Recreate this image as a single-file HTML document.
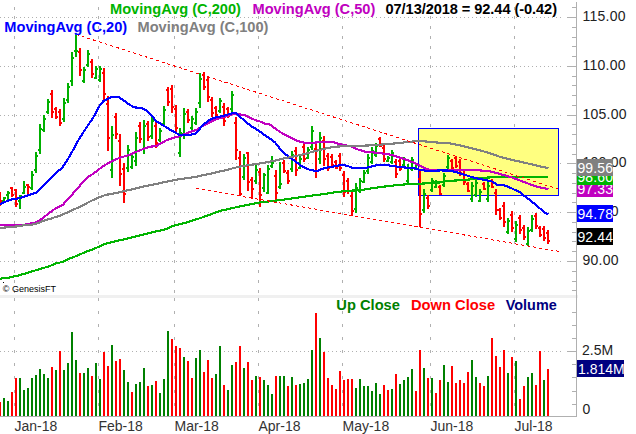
<!DOCTYPE html>
<html><head><meta charset="utf-8"><title>Chart</title>
<style>html,body{margin:0;padding:0;background:#fff;}body{width:636px;height:434px;overflow:hidden;position:relative;font-family:"Liberation Sans",sans-serif;}</style>
</head><body>
<svg width="636" height="434" viewBox="0 0 636 434" style="position:absolute;left:0;top:0" font-family="Liberation Sans, sans-serif">
<rect width="636" height="434" fill="#fff"/>
<g shape-rendering="crispEdges">
<line x1="0" x2="561" y1="17.5" y2="17.5" stroke="#b0b0b0" stroke-width="1" stroke-dasharray="1 3"/>
<line x1="0" x2="561" y1="66.5" y2="66.5" stroke="#b0b0b0" stroke-width="1" stroke-dasharray="1 3"/>
<line x1="0" x2="561" y1="115.5" y2="115.5" stroke="#b0b0b0" stroke-width="1" stroke-dasharray="1 3"/>
<line x1="0" x2="561" y1="163.5" y2="163.5" stroke="#b0b0b0" stroke-width="1" stroke-dasharray="1 3"/>
<line x1="0" x2="561" y1="212.5" y2="212.5" stroke="#b0b0b0" stroke-width="1" stroke-dasharray="1 3"/>
<line x1="0" x2="561" y1="261.5" y2="261.5" stroke="#b0b0b0" stroke-width="1" stroke-dasharray="1 3"/>
<line x1="0" x2="561" y1="351.5" y2="351.5" stroke="#b0b0b0" stroke-width="1" stroke-dasharray="1 3"/>
<rect x="14" y="7" width="1" height="3" fill="#b0b0b0"/>
<rect x="14" y="16" width="1" height="3" fill="#b0b0b0"/>
<rect x="14" y="26" width="1" height="3" fill="#b0b0b0"/>
<rect x="14" y="36" width="1" height="3" fill="#b0b0b0"/>
<rect x="14" y="46" width="1" height="3" fill="#b0b0b0"/>
<rect x="14" y="56" width="1" height="3" fill="#b0b0b0"/>
<rect x="14" y="65" width="1" height="3" fill="#b0b0b0"/>
<rect x="14" y="75" width="1" height="3" fill="#b0b0b0"/>
<rect x="14" y="85" width="1" height="3" fill="#b0b0b0"/>
<rect x="14" y="95" width="1" height="3" fill="#b0b0b0"/>
<rect x="14" y="104" width="1" height="3" fill="#b0b0b0"/>
<rect x="14" y="114" width="1" height="3" fill="#b0b0b0"/>
<rect x="14" y="124" width="1" height="3" fill="#b0b0b0"/>
<rect x="14" y="134" width="1" height="3" fill="#b0b0b0"/>
<rect x="14" y="143" width="1" height="3" fill="#b0b0b0"/>
<rect x="14" y="153" width="1" height="3" fill="#b0b0b0"/>
<rect x="14" y="163" width="1" height="3" fill="#b0b0b0"/>
<rect x="14" y="173" width="1" height="3" fill="#b0b0b0"/>
<rect x="14" y="182" width="1" height="3" fill="#b0b0b0"/>
<rect x="14" y="192" width="1" height="3" fill="#b0b0b0"/>
<rect x="14" y="202" width="1" height="3" fill="#b0b0b0"/>
<rect x="14" y="212" width="1" height="3" fill="#b0b0b0"/>
<rect x="14" y="221" width="1" height="3" fill="#b0b0b0"/>
<rect x="14" y="231" width="1" height="3" fill="#b0b0b0"/>
<rect x="14" y="241" width="1" height="3" fill="#b0b0b0"/>
<rect x="14" y="251" width="1" height="3" fill="#b0b0b0"/>
<rect x="14" y="260" width="1" height="3" fill="#b0b0b0"/>
<rect x="14" y="270" width="1" height="3" fill="#b0b0b0"/>
<rect x="14" y="280" width="1" height="3" fill="#b0b0b0"/>
<rect x="14" y="290" width="1" height="3" fill="#b0b0b0"/>
<rect x="14" y="403" width="1" height="3" fill="#b0b0b0"/>
<rect x="14" y="390" width="1" height="3" fill="#b0b0b0"/>
<rect x="14" y="376" width="1" height="3" fill="#b0b0b0"/>
<rect x="14" y="363" width="1" height="3" fill="#b0b0b0"/>
<rect x="14" y="350" width="1" height="3" fill="#b0b0b0"/>
<rect x="14" y="337" width="1" height="3" fill="#b0b0b0"/>
<rect x="14" y="324" width="1" height="3" fill="#b0b0b0"/>
<rect x="14" y="311" width="1" height="3" fill="#b0b0b0"/>
<rect x="14" y="298" width="1" height="3" fill="#b0b0b0"/>
<rect x="98" y="7" width="1" height="3" fill="#b0b0b0"/>
<rect x="98" y="16" width="1" height="3" fill="#b0b0b0"/>
<rect x="98" y="26" width="1" height="3" fill="#b0b0b0"/>
<rect x="98" y="36" width="1" height="3" fill="#b0b0b0"/>
<rect x="98" y="46" width="1" height="3" fill="#b0b0b0"/>
<rect x="98" y="56" width="1" height="3" fill="#b0b0b0"/>
<rect x="98" y="65" width="1" height="3" fill="#b0b0b0"/>
<rect x="98" y="75" width="1" height="3" fill="#b0b0b0"/>
<rect x="98" y="85" width="1" height="3" fill="#b0b0b0"/>
<rect x="98" y="95" width="1" height="3" fill="#b0b0b0"/>
<rect x="98" y="104" width="1" height="3" fill="#b0b0b0"/>
<rect x="98" y="114" width="1" height="3" fill="#b0b0b0"/>
<rect x="98" y="124" width="1" height="3" fill="#b0b0b0"/>
<rect x="98" y="134" width="1" height="3" fill="#b0b0b0"/>
<rect x="98" y="143" width="1" height="3" fill="#b0b0b0"/>
<rect x="98" y="153" width="1" height="3" fill="#b0b0b0"/>
<rect x="98" y="163" width="1" height="3" fill="#b0b0b0"/>
<rect x="98" y="173" width="1" height="3" fill="#b0b0b0"/>
<rect x="98" y="182" width="1" height="3" fill="#b0b0b0"/>
<rect x="98" y="192" width="1" height="3" fill="#b0b0b0"/>
<rect x="98" y="202" width="1" height="3" fill="#b0b0b0"/>
<rect x="98" y="212" width="1" height="3" fill="#b0b0b0"/>
<rect x="98" y="221" width="1" height="3" fill="#b0b0b0"/>
<rect x="98" y="231" width="1" height="3" fill="#b0b0b0"/>
<rect x="98" y="241" width="1" height="3" fill="#b0b0b0"/>
<rect x="98" y="251" width="1" height="3" fill="#b0b0b0"/>
<rect x="98" y="260" width="1" height="3" fill="#b0b0b0"/>
<rect x="98" y="270" width="1" height="3" fill="#b0b0b0"/>
<rect x="98" y="280" width="1" height="3" fill="#b0b0b0"/>
<rect x="98" y="290" width="1" height="3" fill="#b0b0b0"/>
<rect x="98" y="403" width="1" height="3" fill="#b0b0b0"/>
<rect x="98" y="390" width="1" height="3" fill="#b0b0b0"/>
<rect x="98" y="376" width="1" height="3" fill="#b0b0b0"/>
<rect x="98" y="363" width="1" height="3" fill="#b0b0b0"/>
<rect x="98" y="350" width="1" height="3" fill="#b0b0b0"/>
<rect x="98" y="337" width="1" height="3" fill="#b0b0b0"/>
<rect x="98" y="324" width="1" height="3" fill="#b0b0b0"/>
<rect x="98" y="311" width="1" height="3" fill="#b0b0b0"/>
<rect x="98" y="298" width="1" height="3" fill="#b0b0b0"/>
<rect x="174" y="7" width="1" height="3" fill="#b0b0b0"/>
<rect x="174" y="16" width="1" height="3" fill="#b0b0b0"/>
<rect x="174" y="26" width="1" height="3" fill="#b0b0b0"/>
<rect x="174" y="36" width="1" height="3" fill="#b0b0b0"/>
<rect x="174" y="46" width="1" height="3" fill="#b0b0b0"/>
<rect x="174" y="56" width="1" height="3" fill="#b0b0b0"/>
<rect x="174" y="65" width="1" height="3" fill="#b0b0b0"/>
<rect x="174" y="75" width="1" height="3" fill="#b0b0b0"/>
<rect x="174" y="85" width="1" height="3" fill="#b0b0b0"/>
<rect x="174" y="95" width="1" height="3" fill="#b0b0b0"/>
<rect x="174" y="104" width="1" height="3" fill="#b0b0b0"/>
<rect x="174" y="114" width="1" height="3" fill="#b0b0b0"/>
<rect x="174" y="124" width="1" height="3" fill="#b0b0b0"/>
<rect x="174" y="134" width="1" height="3" fill="#b0b0b0"/>
<rect x="174" y="143" width="1" height="3" fill="#b0b0b0"/>
<rect x="174" y="153" width="1" height="3" fill="#b0b0b0"/>
<rect x="174" y="163" width="1" height="3" fill="#b0b0b0"/>
<rect x="174" y="173" width="1" height="3" fill="#b0b0b0"/>
<rect x="174" y="182" width="1" height="3" fill="#b0b0b0"/>
<rect x="174" y="192" width="1" height="3" fill="#b0b0b0"/>
<rect x="174" y="202" width="1" height="3" fill="#b0b0b0"/>
<rect x="174" y="212" width="1" height="3" fill="#b0b0b0"/>
<rect x="174" y="221" width="1" height="3" fill="#b0b0b0"/>
<rect x="174" y="231" width="1" height="3" fill="#b0b0b0"/>
<rect x="174" y="241" width="1" height="3" fill="#b0b0b0"/>
<rect x="174" y="251" width="1" height="3" fill="#b0b0b0"/>
<rect x="174" y="260" width="1" height="3" fill="#b0b0b0"/>
<rect x="174" y="270" width="1" height="3" fill="#b0b0b0"/>
<rect x="174" y="280" width="1" height="3" fill="#b0b0b0"/>
<rect x="174" y="290" width="1" height="3" fill="#b0b0b0"/>
<rect x="174" y="403" width="1" height="3" fill="#b0b0b0"/>
<rect x="174" y="390" width="1" height="3" fill="#b0b0b0"/>
<rect x="174" y="376" width="1" height="3" fill="#b0b0b0"/>
<rect x="174" y="363" width="1" height="3" fill="#b0b0b0"/>
<rect x="174" y="350" width="1" height="3" fill="#b0b0b0"/>
<rect x="174" y="337" width="1" height="3" fill="#b0b0b0"/>
<rect x="174" y="324" width="1" height="3" fill="#b0b0b0"/>
<rect x="174" y="311" width="1" height="3" fill="#b0b0b0"/>
<rect x="174" y="298" width="1" height="3" fill="#b0b0b0"/>
<rect x="258" y="7" width="1" height="3" fill="#b0b0b0"/>
<rect x="258" y="16" width="1" height="3" fill="#b0b0b0"/>
<rect x="258" y="26" width="1" height="3" fill="#b0b0b0"/>
<rect x="258" y="36" width="1" height="3" fill="#b0b0b0"/>
<rect x="258" y="46" width="1" height="3" fill="#b0b0b0"/>
<rect x="258" y="56" width="1" height="3" fill="#b0b0b0"/>
<rect x="258" y="65" width="1" height="3" fill="#b0b0b0"/>
<rect x="258" y="75" width="1" height="3" fill="#b0b0b0"/>
<rect x="258" y="85" width="1" height="3" fill="#b0b0b0"/>
<rect x="258" y="95" width="1" height="3" fill="#b0b0b0"/>
<rect x="258" y="104" width="1" height="3" fill="#b0b0b0"/>
<rect x="258" y="114" width="1" height="3" fill="#b0b0b0"/>
<rect x="258" y="124" width="1" height="3" fill="#b0b0b0"/>
<rect x="258" y="134" width="1" height="3" fill="#b0b0b0"/>
<rect x="258" y="143" width="1" height="3" fill="#b0b0b0"/>
<rect x="258" y="153" width="1" height="3" fill="#b0b0b0"/>
<rect x="258" y="163" width="1" height="3" fill="#b0b0b0"/>
<rect x="258" y="173" width="1" height="3" fill="#b0b0b0"/>
<rect x="258" y="182" width="1" height="3" fill="#b0b0b0"/>
<rect x="258" y="192" width="1" height="3" fill="#b0b0b0"/>
<rect x="258" y="202" width="1" height="3" fill="#b0b0b0"/>
<rect x="258" y="212" width="1" height="3" fill="#b0b0b0"/>
<rect x="258" y="221" width="1" height="3" fill="#b0b0b0"/>
<rect x="258" y="231" width="1" height="3" fill="#b0b0b0"/>
<rect x="258" y="241" width="1" height="3" fill="#b0b0b0"/>
<rect x="258" y="251" width="1" height="3" fill="#b0b0b0"/>
<rect x="258" y="260" width="1" height="3" fill="#b0b0b0"/>
<rect x="258" y="270" width="1" height="3" fill="#b0b0b0"/>
<rect x="258" y="280" width="1" height="3" fill="#b0b0b0"/>
<rect x="258" y="290" width="1" height="3" fill="#b0b0b0"/>
<rect x="258" y="403" width="1" height="3" fill="#b0b0b0"/>
<rect x="258" y="390" width="1" height="3" fill="#b0b0b0"/>
<rect x="258" y="376" width="1" height="3" fill="#b0b0b0"/>
<rect x="258" y="363" width="1" height="3" fill="#b0b0b0"/>
<rect x="258" y="350" width="1" height="3" fill="#b0b0b0"/>
<rect x="258" y="337" width="1" height="3" fill="#b0b0b0"/>
<rect x="258" y="324" width="1" height="3" fill="#b0b0b0"/>
<rect x="258" y="311" width="1" height="3" fill="#b0b0b0"/>
<rect x="258" y="298" width="1" height="3" fill="#b0b0b0"/>
<rect x="342" y="7" width="1" height="3" fill="#b0b0b0"/>
<rect x="342" y="16" width="1" height="3" fill="#b0b0b0"/>
<rect x="342" y="26" width="1" height="3" fill="#b0b0b0"/>
<rect x="342" y="36" width="1" height="3" fill="#b0b0b0"/>
<rect x="342" y="46" width="1" height="3" fill="#b0b0b0"/>
<rect x="342" y="56" width="1" height="3" fill="#b0b0b0"/>
<rect x="342" y="65" width="1" height="3" fill="#b0b0b0"/>
<rect x="342" y="75" width="1" height="3" fill="#b0b0b0"/>
<rect x="342" y="85" width="1" height="3" fill="#b0b0b0"/>
<rect x="342" y="95" width="1" height="3" fill="#b0b0b0"/>
<rect x="342" y="104" width="1" height="3" fill="#b0b0b0"/>
<rect x="342" y="114" width="1" height="3" fill="#b0b0b0"/>
<rect x="342" y="124" width="1" height="3" fill="#b0b0b0"/>
<rect x="342" y="134" width="1" height="3" fill="#b0b0b0"/>
<rect x="342" y="143" width="1" height="3" fill="#b0b0b0"/>
<rect x="342" y="153" width="1" height="3" fill="#b0b0b0"/>
<rect x="342" y="163" width="1" height="3" fill="#b0b0b0"/>
<rect x="342" y="173" width="1" height="3" fill="#b0b0b0"/>
<rect x="342" y="182" width="1" height="3" fill="#b0b0b0"/>
<rect x="342" y="192" width="1" height="3" fill="#b0b0b0"/>
<rect x="342" y="202" width="1" height="3" fill="#b0b0b0"/>
<rect x="342" y="212" width="1" height="3" fill="#b0b0b0"/>
<rect x="342" y="221" width="1" height="3" fill="#b0b0b0"/>
<rect x="342" y="231" width="1" height="3" fill="#b0b0b0"/>
<rect x="342" y="241" width="1" height="3" fill="#b0b0b0"/>
<rect x="342" y="251" width="1" height="3" fill="#b0b0b0"/>
<rect x="342" y="260" width="1" height="3" fill="#b0b0b0"/>
<rect x="342" y="270" width="1" height="3" fill="#b0b0b0"/>
<rect x="342" y="280" width="1" height="3" fill="#b0b0b0"/>
<rect x="342" y="290" width="1" height="3" fill="#b0b0b0"/>
<rect x="342" y="403" width="1" height="3" fill="#b0b0b0"/>
<rect x="342" y="390" width="1" height="3" fill="#b0b0b0"/>
<rect x="342" y="376" width="1" height="3" fill="#b0b0b0"/>
<rect x="342" y="363" width="1" height="3" fill="#b0b0b0"/>
<rect x="342" y="350" width="1" height="3" fill="#b0b0b0"/>
<rect x="342" y="337" width="1" height="3" fill="#b0b0b0"/>
<rect x="342" y="324" width="1" height="3" fill="#b0b0b0"/>
<rect x="342" y="311" width="1" height="3" fill="#b0b0b0"/>
<rect x="342" y="298" width="1" height="3" fill="#b0b0b0"/>
<rect x="430" y="7" width="1" height="3" fill="#b0b0b0"/>
<rect x="430" y="16" width="1" height="3" fill="#b0b0b0"/>
<rect x="430" y="26" width="1" height="3" fill="#b0b0b0"/>
<rect x="430" y="36" width="1" height="3" fill="#b0b0b0"/>
<rect x="430" y="46" width="1" height="3" fill="#b0b0b0"/>
<rect x="430" y="56" width="1" height="3" fill="#b0b0b0"/>
<rect x="430" y="65" width="1" height="3" fill="#b0b0b0"/>
<rect x="430" y="75" width="1" height="3" fill="#b0b0b0"/>
<rect x="430" y="85" width="1" height="3" fill="#b0b0b0"/>
<rect x="430" y="95" width="1" height="3" fill="#b0b0b0"/>
<rect x="430" y="104" width="1" height="3" fill="#b0b0b0"/>
<rect x="430" y="114" width="1" height="3" fill="#b0b0b0"/>
<rect x="430" y="124" width="1" height="3" fill="#b0b0b0"/>
<rect x="430" y="134" width="1" height="3" fill="#b0b0b0"/>
<rect x="430" y="143" width="1" height="3" fill="#b0b0b0"/>
<rect x="430" y="153" width="1" height="3" fill="#b0b0b0"/>
<rect x="430" y="163" width="1" height="3" fill="#b0b0b0"/>
<rect x="430" y="173" width="1" height="3" fill="#b0b0b0"/>
<rect x="430" y="182" width="1" height="3" fill="#b0b0b0"/>
<rect x="430" y="192" width="1" height="3" fill="#b0b0b0"/>
<rect x="430" y="202" width="1" height="3" fill="#b0b0b0"/>
<rect x="430" y="212" width="1" height="3" fill="#b0b0b0"/>
<rect x="430" y="221" width="1" height="3" fill="#b0b0b0"/>
<rect x="430" y="231" width="1" height="3" fill="#b0b0b0"/>
<rect x="430" y="241" width="1" height="3" fill="#b0b0b0"/>
<rect x="430" y="251" width="1" height="3" fill="#b0b0b0"/>
<rect x="430" y="260" width="1" height="3" fill="#b0b0b0"/>
<rect x="430" y="270" width="1" height="3" fill="#b0b0b0"/>
<rect x="430" y="280" width="1" height="3" fill="#b0b0b0"/>
<rect x="430" y="290" width="1" height="3" fill="#b0b0b0"/>
<rect x="430" y="403" width="1" height="3" fill="#b0b0b0"/>
<rect x="430" y="390" width="1" height="3" fill="#b0b0b0"/>
<rect x="430" y="376" width="1" height="3" fill="#b0b0b0"/>
<rect x="430" y="363" width="1" height="3" fill="#b0b0b0"/>
<rect x="430" y="350" width="1" height="3" fill="#b0b0b0"/>
<rect x="430" y="337" width="1" height="3" fill="#b0b0b0"/>
<rect x="430" y="324" width="1" height="3" fill="#b0b0b0"/>
<rect x="430" y="311" width="1" height="3" fill="#b0b0b0"/>
<rect x="430" y="298" width="1" height="3" fill="#b0b0b0"/>
<rect x="514" y="7" width="1" height="3" fill="#b0b0b0"/>
<rect x="514" y="16" width="1" height="3" fill="#b0b0b0"/>
<rect x="514" y="26" width="1" height="3" fill="#b0b0b0"/>
<rect x="514" y="36" width="1" height="3" fill="#b0b0b0"/>
<rect x="514" y="46" width="1" height="3" fill="#b0b0b0"/>
<rect x="514" y="56" width="1" height="3" fill="#b0b0b0"/>
<rect x="514" y="65" width="1" height="3" fill="#b0b0b0"/>
<rect x="514" y="75" width="1" height="3" fill="#b0b0b0"/>
<rect x="514" y="85" width="1" height="3" fill="#b0b0b0"/>
<rect x="514" y="95" width="1" height="3" fill="#b0b0b0"/>
<rect x="514" y="104" width="1" height="3" fill="#b0b0b0"/>
<rect x="514" y="114" width="1" height="3" fill="#b0b0b0"/>
<rect x="514" y="124" width="1" height="3" fill="#b0b0b0"/>
<rect x="514" y="134" width="1" height="3" fill="#b0b0b0"/>
<rect x="514" y="143" width="1" height="3" fill="#b0b0b0"/>
<rect x="514" y="153" width="1" height="3" fill="#b0b0b0"/>
<rect x="514" y="163" width="1" height="3" fill="#b0b0b0"/>
<rect x="514" y="173" width="1" height="3" fill="#b0b0b0"/>
<rect x="514" y="182" width="1" height="3" fill="#b0b0b0"/>
<rect x="514" y="192" width="1" height="3" fill="#b0b0b0"/>
<rect x="514" y="202" width="1" height="3" fill="#b0b0b0"/>
<rect x="514" y="212" width="1" height="3" fill="#b0b0b0"/>
<rect x="514" y="221" width="1" height="3" fill="#b0b0b0"/>
<rect x="514" y="231" width="1" height="3" fill="#b0b0b0"/>
<rect x="514" y="241" width="1" height="3" fill="#b0b0b0"/>
<rect x="514" y="251" width="1" height="3" fill="#b0b0b0"/>
<rect x="514" y="260" width="1" height="3" fill="#b0b0b0"/>
<rect x="514" y="270" width="1" height="3" fill="#b0b0b0"/>
<rect x="514" y="280" width="1" height="3" fill="#b0b0b0"/>
<rect x="514" y="290" width="1" height="3" fill="#b0b0b0"/>
<rect x="514" y="403" width="1" height="3" fill="#b0b0b0"/>
<rect x="514" y="390" width="1" height="3" fill="#b0b0b0"/>
<rect x="514" y="376" width="1" height="3" fill="#b0b0b0"/>
<rect x="514" y="363" width="1" height="3" fill="#b0b0b0"/>
<rect x="514" y="350" width="1" height="3" fill="#b0b0b0"/>
<rect x="514" y="337" width="1" height="3" fill="#b0b0b0"/>
<rect x="514" y="324" width="1" height="3" fill="#b0b0b0"/>
<rect x="514" y="311" width="1" height="3" fill="#b0b0b0"/>
<rect x="514" y="298" width="1" height="3" fill="#b0b0b0"/>
<rect x="0" y="295" width="578" height="3" fill="#f0f0f0"/>
<rect x="418.5" y="128.5" width="140" height="67" fill="#ffff80" stroke="#0000ff" stroke-width="1"/>
<rect x="-1" y="192" width="2" height="14" fill="#ff0000"/>
<rect x="-2" y="194" width="1" height="2" fill="#ff0000"/>
<rect x="1" y="200" width="1" height="2" fill="#ff0000"/>
<rect x="3" y="197" width="2" height="5" fill="#00b000"/>
<rect x="2" y="200" width="1" height="2" fill="#00b000"/>
<rect x="5" y="197" width="1" height="2" fill="#00b000"/>
<rect x="7" y="191" width="2" height="9" fill="#00b000"/>
<rect x="6" y="194" width="1" height="2" fill="#00b000"/>
<rect x="9" y="192" width="1" height="2" fill="#00b000"/>
<rect x="11" y="187" width="2" height="10" fill="#ff0000"/>
<rect x="10" y="187" width="1" height="2" fill="#ff0000"/>
<rect x="13" y="194" width="1" height="2" fill="#ff0000"/>
<rect x="15" y="189" width="2" height="18" fill="#ff0000"/>
<rect x="14" y="189" width="1" height="2" fill="#ff0000"/>
<rect x="17" y="203" width="1" height="2" fill="#ff0000"/>
<rect x="19" y="195" width="2" height="14" fill="#00b000"/>
<rect x="18" y="200" width="1" height="2" fill="#00b000"/>
<rect x="21" y="195" width="1" height="2" fill="#00b000"/>
<rect x="23" y="181" width="2" height="13" fill="#00b000"/>
<rect x="22" y="192" width="1" height="2" fill="#00b000"/>
<rect x="25" y="186" width="1" height="2" fill="#00b000"/>
<rect x="27" y="184" width="2" height="11" fill="#ff0000"/>
<rect x="26" y="184" width="1" height="2" fill="#ff0000"/>
<rect x="29" y="186" width="1" height="2" fill="#ff0000"/>
<rect x="31" y="171" width="2" height="19" fill="#00b000"/>
<rect x="30" y="187" width="1" height="2" fill="#00b000"/>
<rect x="33" y="174" width="1" height="2" fill="#00b000"/>
<rect x="35" y="152" width="2" height="21" fill="#00b000"/>
<rect x="34" y="169" width="1" height="2" fill="#00b000"/>
<rect x="37" y="155" width="1" height="2" fill="#00b000"/>
<rect x="39" y="124" width="2" height="30" fill="#00b000"/>
<rect x="38" y="149" width="1" height="2" fill="#00b000"/>
<rect x="41" y="128" width="1" height="2" fill="#00b000"/>
<rect x="43" y="115" width="2" height="17" fill="#00b000"/>
<rect x="42" y="129" width="1" height="2" fill="#00b000"/>
<rect x="45" y="118" width="1" height="2" fill="#00b000"/>
<rect x="47" y="99" width="2" height="15" fill="#00b000"/>
<rect x="46" y="111" width="1" height="2" fill="#00b000"/>
<rect x="49" y="101" width="1" height="2" fill="#00b000"/>
<rect x="51" y="90" width="2" height="28" fill="#ff0000"/>
<rect x="50" y="93" width="1" height="2" fill="#ff0000"/>
<rect x="53" y="111" width="1" height="2" fill="#ff0000"/>
<rect x="55" y="107" width="2" height="12" fill="#ff0000"/>
<rect x="54" y="108" width="1" height="2" fill="#ff0000"/>
<rect x="57" y="116" width="1" height="2" fill="#ff0000"/>
<rect x="59" y="109" width="2" height="17" fill="#ff0000"/>
<rect x="58" y="111" width="1" height="2" fill="#ff0000"/>
<rect x="61" y="122" width="1" height="2" fill="#ff0000"/>
<rect x="63" y="98" width="2" height="24" fill="#00b000"/>
<rect x="62" y="118" width="1" height="2" fill="#00b000"/>
<rect x="65" y="102" width="1" height="2" fill="#00b000"/>
<rect x="67" y="83" width="2" height="20" fill="#00b000"/>
<rect x="66" y="99" width="1" height="2" fill="#00b000"/>
<rect x="69" y="86" width="1" height="2" fill="#00b000"/>
<rect x="71" y="52" width="2" height="34" fill="#00b000"/>
<rect x="70" y="80" width="1" height="2" fill="#00b000"/>
<rect x="73" y="57" width="1" height="2" fill="#00b000"/>
<rect x="75" y="34" width="2" height="23" fill="#00b000"/>
<rect x="74" y="50" width="1" height="2" fill="#00b000"/>
<rect x="77" y="50" width="1" height="2" fill="#00b000"/>
<rect x="79" y="48" width="2" height="28" fill="#ff0000"/>
<rect x="78" y="51" width="1" height="2" fill="#ff0000"/>
<rect x="81" y="69" width="1" height="2" fill="#ff0000"/>
<rect x="83" y="67" width="2" height="16" fill="#00b000"/>
<rect x="82" y="80" width="1" height="2" fill="#00b000"/>
<rect x="85" y="69" width="1" height="2" fill="#00b000"/>
<rect x="87" y="50" width="2" height="17" fill="#00b000"/>
<rect x="86" y="64" width="1" height="2" fill="#00b000"/>
<rect x="89" y="53" width="1" height="2" fill="#00b000"/>
<rect x="91" y="59" width="2" height="19" fill="#ff0000"/>
<rect x="90" y="61" width="1" height="2" fill="#ff0000"/>
<rect x="93" y="73" width="1" height="2" fill="#ff0000"/>
<rect x="95" y="66" width="2" height="13" fill="#00b000"/>
<rect x="94" y="77" width="1" height="2" fill="#00b000"/>
<rect x="97" y="68" width="1" height="2" fill="#00b000"/>
<rect x="99" y="66" width="2" height="16" fill="#00b000"/>
<rect x="98" y="79" width="1" height="2" fill="#00b000"/>
<rect x="101" y="68" width="1" height="2" fill="#00b000"/>
<rect x="103" y="68" width="2" height="33" fill="#ff0000"/>
<rect x="102" y="72" width="1" height="2" fill="#ff0000"/>
<rect x="105" y="93" width="1" height="2" fill="#ff0000"/>
<rect x="107" y="96" width="2" height="55" fill="#ff0000"/>
<rect x="106" y="103" width="1" height="2" fill="#ff0000"/>
<rect x="109" y="137" width="1" height="2" fill="#ff0000"/>
<rect x="111" y="126" width="2" height="52" fill="#00b000"/>
<rect x="110" y="169" width="1" height="2" fill="#00b000"/>
<rect x="113" y="134" width="1" height="2" fill="#00b000"/>
<rect x="115" y="113" width="2" height="26" fill="#ff0000"/>
<rect x="114" y="116" width="1" height="2" fill="#ff0000"/>
<rect x="117" y="133" width="1" height="2" fill="#ff0000"/>
<rect x="119" y="134" width="2" height="52" fill="#ff0000"/>
<rect x="118" y="140" width="1" height="2" fill="#ff0000"/>
<rect x="121" y="173" width="1" height="2" fill="#ff0000"/>
<rect x="123" y="163" width="2" height="40" fill="#ff0000"/>
<rect x="122" y="168" width="1" height="2" fill="#ff0000"/>
<rect x="125" y="193" width="1" height="2" fill="#ff0000"/>
<rect x="127" y="145" width="2" height="27" fill="#00b000"/>
<rect x="126" y="167" width="1" height="2" fill="#00b000"/>
<rect x="129" y="149" width="1" height="2" fill="#00b000"/>
<rect x="131" y="154" width="2" height="15" fill="#00b000"/>
<rect x="130" y="166" width="1" height="2" fill="#00b000"/>
<rect x="133" y="156" width="1" height="2" fill="#00b000"/>
<rect x="135" y="132" width="2" height="34" fill="#00b000"/>
<rect x="134" y="160" width="1" height="2" fill="#00b000"/>
<rect x="137" y="137" width="1" height="2" fill="#00b000"/>
<rect x="139" y="122" width="2" height="21" fill="#ff0000"/>
<rect x="138" y="125" width="1" height="2" fill="#ff0000"/>
<rect x="141" y="138" width="1" height="2" fill="#ff0000"/>
<rect x="143" y="120" width="2" height="34" fill="#00b000"/>
<rect x="142" y="148" width="1" height="2" fill="#00b000"/>
<rect x="145" y="125" width="1" height="2" fill="#00b000"/>
<rect x="147" y="121" width="2" height="20" fill="#ff0000"/>
<rect x="146" y="123" width="1" height="2" fill="#ff0000"/>
<rect x="149" y="136" width="1" height="2" fill="#ff0000"/>
<rect x="151" y="117" width="2" height="22" fill="#00b000"/>
<rect x="150" y="135" width="1" height="2" fill="#00b000"/>
<rect x="153" y="120" width="1" height="2" fill="#00b000"/>
<rect x="155" y="122" width="2" height="26" fill="#ff0000"/>
<rect x="154" y="125" width="1" height="2" fill="#ff0000"/>
<rect x="157" y="142" width="1" height="2" fill="#ff0000"/>
<rect x="159" y="128" width="2" height="14" fill="#00b000"/>
<rect x="158" y="139" width="1" height="2" fill="#00b000"/>
<rect x="161" y="130" width="1" height="2" fill="#00b000"/>
<rect x="163" y="106" width="2" height="21" fill="#00b000"/>
<rect x="162" y="123" width="1" height="2" fill="#00b000"/>
<rect x="165" y="109" width="1" height="2" fill="#00b000"/>
<rect x="167" y="87" width="2" height="19" fill="#ff0000"/>
<rect x="166" y="89" width="1" height="2" fill="#ff0000"/>
<rect x="169" y="101" width="1" height="2" fill="#ff0000"/>
<rect x="171" y="85" width="2" height="28" fill="#ff0000"/>
<rect x="170" y="88" width="1" height="2" fill="#ff0000"/>
<rect x="173" y="106" width="1" height="2" fill="#ff0000"/>
<rect x="175" y="105" width="2" height="29" fill="#ff0000"/>
<rect x="174" y="108" width="1" height="2" fill="#ff0000"/>
<rect x="177" y="127" width="1" height="2" fill="#ff0000"/>
<rect x="179" y="128" width="2" height="29" fill="#00b000"/>
<rect x="178" y="152" width="1" height="2" fill="#00b000"/>
<rect x="181" y="132" width="1" height="2" fill="#00b000"/>
<rect x="183" y="108" width="2" height="31" fill="#00b000"/>
<rect x="182" y="133" width="1" height="2" fill="#00b000"/>
<rect x="185" y="113" width="1" height="2" fill="#00b000"/>
<rect x="187" y="109" width="2" height="14" fill="#ff0000"/>
<rect x="186" y="111" width="1" height="2" fill="#ff0000"/>
<rect x="189" y="119" width="1" height="2" fill="#ff0000"/>
<rect x="191" y="116" width="2" height="14" fill="#00b000"/>
<rect x="190" y="127" width="1" height="2" fill="#00b000"/>
<rect x="193" y="118" width="1" height="2" fill="#00b000"/>
<rect x="195" y="108" width="2" height="17" fill="#00b000"/>
<rect x="194" y="122" width="1" height="2" fill="#00b000"/>
<rect x="197" y="111" width="1" height="2" fill="#00b000"/>
<rect x="199" y="73" width="2" height="35" fill="#00b000"/>
<rect x="198" y="102" width="1" height="2" fill="#00b000"/>
<rect x="201" y="78" width="1" height="2" fill="#00b000"/>
<rect x="203" y="72" width="2" height="18" fill="#ff0000"/>
<rect x="202" y="74" width="1" height="2" fill="#ff0000"/>
<rect x="205" y="86" width="1" height="2" fill="#ff0000"/>
<rect x="207" y="76" width="2" height="26" fill="#ff0000"/>
<rect x="206" y="79" width="1" height="2" fill="#ff0000"/>
<rect x="209" y="96" width="1" height="2" fill="#ff0000"/>
<rect x="211" y="97" width="2" height="20" fill="#ff0000"/>
<rect x="210" y="99" width="1" height="2" fill="#ff0000"/>
<rect x="213" y="112" width="1" height="2" fill="#ff0000"/>
<rect x="215" y="106" width="2" height="10" fill="#ff0000"/>
<rect x="214" y="107" width="1" height="2" fill="#ff0000"/>
<rect x="217" y="114" width="1" height="2" fill="#ff0000"/>
<rect x="219" y="98" width="2" height="15" fill="#00b000"/>
<rect x="218" y="110" width="1" height="2" fill="#00b000"/>
<rect x="221" y="100" width="1" height="2" fill="#00b000"/>
<rect x="223" y="103" width="2" height="23" fill="#ff0000"/>
<rect x="222" y="106" width="1" height="2" fill="#ff0000"/>
<rect x="225" y="120" width="1" height="2" fill="#ff0000"/>
<rect x="227" y="107" width="2" height="11" fill="#ff0000"/>
<rect x="226" y="108" width="1" height="2" fill="#ff0000"/>
<rect x="229" y="115" width="1" height="2" fill="#ff0000"/>
<rect x="231" y="91" width="2" height="21" fill="#00b000"/>
<rect x="230" y="108" width="1" height="2" fill="#00b000"/>
<rect x="233" y="94" width="1" height="2" fill="#00b000"/>
<rect x="235" y="117" width="2" height="43" fill="#ff0000"/>
<rect x="234" y="122" width="1" height="2" fill="#ff0000"/>
<rect x="237" y="149" width="1" height="2" fill="#ff0000"/>
<rect x="239" y="151" width="2" height="45" fill="#ff0000"/>
<rect x="238" y="157" width="1" height="2" fill="#ff0000"/>
<rect x="241" y="193" width="1" height="2" fill="#ff0000"/>
<rect x="243" y="154" width="2" height="26" fill="#00b000"/>
<rect x="242" y="176" width="1" height="2" fill="#00b000"/>
<rect x="245" y="157" width="1" height="2" fill="#00b000"/>
<rect x="247" y="152" width="2" height="39" fill="#ff0000"/>
<rect x="246" y="152" width="1" height="2" fill="#ff0000"/>
<rect x="249" y="181" width="1" height="2" fill="#ff0000"/>
<rect x="251" y="177" width="2" height="22" fill="#ff0000"/>
<rect x="250" y="179" width="1" height="2" fill="#ff0000"/>
<rect x="253" y="188" width="1" height="2" fill="#ff0000"/>
<rect x="255" y="163" width="2" height="21" fill="#00b000"/>
<rect x="254" y="180" width="1" height="2" fill="#00b000"/>
<rect x="257" y="169" width="1" height="2" fill="#00b000"/>
<rect x="259" y="168" width="2" height="39" fill="#ff0000"/>
<rect x="258" y="171" width="1" height="2" fill="#ff0000"/>
<rect x="261" y="194" width="1" height="2" fill="#ff0000"/>
<rect x="263" y="173" width="2" height="19" fill="#00b000"/>
<rect x="262" y="187" width="1" height="2" fill="#00b000"/>
<rect x="265" y="174" width="1" height="2" fill="#00b000"/>
<rect x="267" y="165" width="2" height="29" fill="#00b000"/>
<rect x="266" y="192" width="1" height="2" fill="#00b000"/>
<rect x="269" y="168" width="1" height="2" fill="#00b000"/>
<rect x="271" y="156" width="2" height="12" fill="#00b000"/>
<rect x="270" y="165" width="1" height="2" fill="#00b000"/>
<rect x="273" y="162" width="1" height="2" fill="#00b000"/>
<rect x="275" y="170" width="2" height="33" fill="#ff0000"/>
<rect x="274" y="175" width="1" height="2" fill="#ff0000"/>
<rect x="277" y="192" width="1" height="2" fill="#ff0000"/>
<rect x="279" y="162" width="2" height="27" fill="#00b000"/>
<rect x="278" y="186" width="1" height="2" fill="#00b000"/>
<rect x="281" y="183" width="1" height="2" fill="#00b000"/>
<rect x="283" y="160" width="2" height="13" fill="#ff0000"/>
<rect x="282" y="162" width="1" height="2" fill="#ff0000"/>
<rect x="285" y="170" width="1" height="2" fill="#ff0000"/>
<rect x="287" y="170" width="2" height="14" fill="#ff0000"/>
<rect x="286" y="172" width="1" height="2" fill="#ff0000"/>
<rect x="289" y="180" width="1" height="2" fill="#ff0000"/>
<rect x="291" y="151" width="2" height="21" fill="#00b000"/>
<rect x="290" y="168" width="1" height="2" fill="#00b000"/>
<rect x="293" y="154" width="1" height="2" fill="#00b000"/>
<rect x="295" y="147" width="2" height="29" fill="#ff0000"/>
<rect x="294" y="150" width="1" height="2" fill="#ff0000"/>
<rect x="297" y="169" width="1" height="2" fill="#ff0000"/>
<rect x="299" y="156" width="2" height="13" fill="#00b000"/>
<rect x="298" y="167" width="1" height="2" fill="#00b000"/>
<rect x="301" y="158" width="1" height="2" fill="#00b000"/>
<rect x="303" y="144" width="2" height="18" fill="#ff0000"/>
<rect x="302" y="146" width="1" height="2" fill="#ff0000"/>
<rect x="305" y="158" width="1" height="2" fill="#ff0000"/>
<rect x="307" y="147" width="2" height="12" fill="#00b000"/>
<rect x="306" y="157" width="1" height="2" fill="#00b000"/>
<rect x="309" y="149" width="1" height="2" fill="#00b000"/>
<rect x="311" y="126" width="2" height="24" fill="#00b000"/>
<rect x="310" y="146" width="1" height="2" fill="#00b000"/>
<rect x="313" y="130" width="1" height="2" fill="#00b000"/>
<rect x="315" y="144" width="2" height="34" fill="#ff0000"/>
<rect x="314" y="148" width="1" height="2" fill="#ff0000"/>
<rect x="317" y="170" width="1" height="2" fill="#ff0000"/>
<rect x="319" y="132" width="2" height="32" fill="#00b000"/>
<rect x="318" y="158" width="1" height="2" fill="#00b000"/>
<rect x="321" y="137" width="1" height="2" fill="#00b000"/>
<rect x="323" y="136" width="2" height="30" fill="#ff0000"/>
<rect x="322" y="140" width="1" height="2" fill="#ff0000"/>
<rect x="325" y="158" width="1" height="2" fill="#ff0000"/>
<rect x="327" y="153" width="2" height="18" fill="#ff0000"/>
<rect x="326" y="155" width="1" height="2" fill="#ff0000"/>
<rect x="329" y="167" width="1" height="2" fill="#ff0000"/>
<rect x="331" y="154" width="2" height="14" fill="#ff0000"/>
<rect x="330" y="156" width="1" height="2" fill="#ff0000"/>
<rect x="333" y="164" width="1" height="2" fill="#ff0000"/>
<rect x="335" y="160" width="2" height="9" fill="#ff0000"/>
<rect x="334" y="161" width="1" height="2" fill="#ff0000"/>
<rect x="337" y="167" width="1" height="2" fill="#ff0000"/>
<rect x="339" y="153" width="2" height="18" fill="#ff0000"/>
<rect x="338" y="155" width="1" height="2" fill="#ff0000"/>
<rect x="341" y="167" width="1" height="2" fill="#ff0000"/>
<rect x="343" y="171" width="2" height="26" fill="#ff0000"/>
<rect x="342" y="174" width="1" height="2" fill="#ff0000"/>
<rect x="345" y="191" width="1" height="2" fill="#ff0000"/>
<rect x="347" y="178" width="2" height="16" fill="#ff0000"/>
<rect x="346" y="180" width="1" height="2" fill="#ff0000"/>
<rect x="349" y="190" width="1" height="2" fill="#ff0000"/>
<rect x="351" y="192" width="2" height="24" fill="#ff0000"/>
<rect x="350" y="195" width="1" height="2" fill="#ff0000"/>
<rect x="353" y="210" width="1" height="2" fill="#ff0000"/>
<rect x="355" y="183" width="2" height="30" fill="#00b000"/>
<rect x="354" y="208" width="1" height="2" fill="#00b000"/>
<rect x="357" y="187" width="1" height="2" fill="#00b000"/>
<rect x="359" y="178" width="2" height="15" fill="#00b000"/>
<rect x="358" y="190" width="1" height="2" fill="#00b000"/>
<rect x="361" y="180" width="1" height="2" fill="#00b000"/>
<rect x="363" y="170" width="2" height="13" fill="#00b000"/>
<rect x="362" y="181" width="1" height="2" fill="#00b000"/>
<rect x="365" y="172" width="1" height="2" fill="#00b000"/>
<rect x="367" y="154" width="2" height="20" fill="#00b000"/>
<rect x="366" y="170" width="1" height="2" fill="#00b000"/>
<rect x="369" y="157" width="1" height="2" fill="#00b000"/>
<rect x="371" y="147" width="2" height="17" fill="#00b000"/>
<rect x="370" y="161" width="1" height="2" fill="#00b000"/>
<rect x="373" y="150" width="1" height="2" fill="#00b000"/>
<rect x="375" y="143" width="2" height="14" fill="#00b000"/>
<rect x="374" y="154" width="1" height="2" fill="#00b000"/>
<rect x="377" y="145" width="1" height="2" fill="#00b000"/>
<rect x="379" y="137" width="2" height="10" fill="#ff0000"/>
<rect x="378" y="138" width="1" height="2" fill="#ff0000"/>
<rect x="381" y="145" width="1" height="2" fill="#ff0000"/>
<rect x="383" y="145" width="2" height="17" fill="#ff0000"/>
<rect x="382" y="147" width="1" height="2" fill="#ff0000"/>
<rect x="385" y="158" width="1" height="2" fill="#ff0000"/>
<rect x="387" y="156" width="2" height="6" fill="#00b000"/>
<rect x="386" y="160" width="1" height="2" fill="#00b000"/>
<rect x="389" y="157" width="1" height="2" fill="#00b000"/>
<rect x="391" y="150" width="2" height="14" fill="#00b000"/>
<rect x="390" y="161" width="1" height="2" fill="#00b000"/>
<rect x="393" y="152" width="1" height="2" fill="#00b000"/>
<rect x="395" y="159" width="2" height="19" fill="#ff0000"/>
<rect x="394" y="161" width="1" height="2" fill="#ff0000"/>
<rect x="397" y="173" width="1" height="2" fill="#ff0000"/>
<rect x="399" y="159" width="2" height="12" fill="#ff0000"/>
<rect x="398" y="160" width="1" height="2" fill="#ff0000"/>
<rect x="401" y="168" width="1" height="2" fill="#ff0000"/>
<rect x="403" y="157" width="2" height="9" fill="#00b000"/>
<rect x="402" y="164" width="1" height="2" fill="#00b000"/>
<rect x="405" y="158" width="1" height="2" fill="#00b000"/>
<rect x="407" y="164" width="2" height="20" fill="#00b000"/>
<rect x="406" y="180" width="1" height="2" fill="#00b000"/>
<rect x="409" y="167" width="1" height="2" fill="#00b000"/>
<rect x="411" y="157" width="2" height="14" fill="#00b000"/>
<rect x="410" y="168" width="1" height="2" fill="#00b000"/>
<rect x="413" y="159" width="1" height="2" fill="#00b000"/>
<rect x="415" y="163" width="2" height="7" fill="#00b000"/>
<rect x="414" y="168" width="1" height="2" fill="#00b000"/>
<rect x="417" y="164" width="1" height="2" fill="#00b000"/>
<rect x="419" y="171" width="2" height="56" fill="#ff0000"/>
<rect x="418" y="178" width="1" height="2" fill="#ff0000"/>
<rect x="421" y="213" width="1" height="2" fill="#ff0000"/>
<rect x="423" y="189" width="2" height="24" fill="#00b000"/>
<rect x="422" y="209" width="1" height="2" fill="#00b000"/>
<rect x="425" y="193" width="1" height="2" fill="#00b000"/>
<rect x="427" y="195" width="2" height="14" fill="#ff0000"/>
<rect x="426" y="197" width="1" height="2" fill="#ff0000"/>
<rect x="429" y="205" width="1" height="2" fill="#ff0000"/>
<rect x="431" y="178" width="2" height="14" fill="#00b000"/>
<rect x="430" y="189" width="1" height="2" fill="#00b000"/>
<rect x="433" y="180" width="1" height="2" fill="#00b000"/>
<rect x="435" y="180" width="2" height="8" fill="#00b000"/>
<rect x="434" y="186" width="1" height="2" fill="#00b000"/>
<rect x="437" y="181" width="1" height="2" fill="#00b000"/>
<rect x="439" y="185" width="2" height="10" fill="#ff0000"/>
<rect x="438" y="186" width="1" height="2" fill="#ff0000"/>
<rect x="441" y="193" width="1" height="2" fill="#ff0000"/>
<rect x="443" y="173" width="2" height="14" fill="#00b000"/>
<rect x="442" y="184" width="1" height="2" fill="#00b000"/>
<rect x="445" y="175" width="1" height="2" fill="#00b000"/>
<rect x="447" y="155" width="2" height="14" fill="#00b000"/>
<rect x="446" y="166" width="1" height="2" fill="#00b000"/>
<rect x="449" y="157" width="1" height="2" fill="#00b000"/>
<rect x="451" y="159" width="2" height="11" fill="#ff0000"/>
<rect x="450" y="160" width="1" height="2" fill="#ff0000"/>
<rect x="453" y="167" width="1" height="2" fill="#ff0000"/>
<rect x="455" y="156" width="2" height="12" fill="#ff0000"/>
<rect x="454" y="157" width="1" height="2" fill="#ff0000"/>
<rect x="457" y="165" width="1" height="2" fill="#ff0000"/>
<rect x="459" y="159" width="2" height="17" fill="#ff0000"/>
<rect x="458" y="161" width="1" height="2" fill="#ff0000"/>
<rect x="461" y="172" width="1" height="2" fill="#ff0000"/>
<rect x="463" y="171" width="2" height="14" fill="#ff0000"/>
<rect x="462" y="173" width="1" height="2" fill="#ff0000"/>
<rect x="465" y="181" width="1" height="2" fill="#ff0000"/>
<rect x="467" y="182" width="2" height="10" fill="#ff0000"/>
<rect x="466" y="183" width="1" height="2" fill="#ff0000"/>
<rect x="469" y="190" width="1" height="2" fill="#ff0000"/>
<rect x="471" y="182" width="2" height="20" fill="#00b000"/>
<rect x="470" y="198" width="1" height="2" fill="#00b000"/>
<rect x="473" y="185" width="1" height="2" fill="#00b000"/>
<rect x="475" y="179" width="2" height="18" fill="#00b000"/>
<rect x="474" y="194" width="1" height="2" fill="#00b000"/>
<rect x="477" y="182" width="1" height="2" fill="#00b000"/>
<rect x="479" y="189" width="2" height="13" fill="#00b000"/>
<rect x="478" y="200" width="1" height="2" fill="#00b000"/>
<rect x="481" y="191" width="1" height="2" fill="#00b000"/>
<rect x="483" y="182" width="2" height="8" fill="#ff0000"/>
<rect x="482" y="183" width="1" height="2" fill="#ff0000"/>
<rect x="485" y="188" width="1" height="2" fill="#ff0000"/>
<rect x="487" y="182" width="2" height="20" fill="#00b000"/>
<rect x="486" y="198" width="1" height="2" fill="#00b000"/>
<rect x="489" y="185" width="1" height="2" fill="#00b000"/>
<rect x="491" y="179" width="2" height="9" fill="#ff0000"/>
<rect x="490" y="180" width="1" height="2" fill="#ff0000"/>
<rect x="493" y="186" width="1" height="2" fill="#ff0000"/>
<rect x="495" y="189" width="2" height="26" fill="#ff0000"/>
<rect x="494" y="192" width="1" height="2" fill="#ff0000"/>
<rect x="497" y="209" width="1" height="2" fill="#ff0000"/>
<rect x="499" y="208" width="2" height="12" fill="#ff0000"/>
<rect x="498" y="209" width="1" height="2" fill="#ff0000"/>
<rect x="501" y="217" width="1" height="2" fill="#ff0000"/>
<rect x="503" y="202" width="2" height="25" fill="#ff0000"/>
<rect x="502" y="205" width="1" height="2" fill="#ff0000"/>
<rect x="505" y="221" width="1" height="2" fill="#ff0000"/>
<rect x="507" y="218" width="2" height="16" fill="#00b000"/>
<rect x="506" y="231" width="1" height="2" fill="#00b000"/>
<rect x="509" y="220" width="1" height="2" fill="#00b000"/>
<rect x="511" y="211" width="2" height="21" fill="#ff0000"/>
<rect x="510" y="214" width="1" height="2" fill="#ff0000"/>
<rect x="513" y="227" width="1" height="2" fill="#ff0000"/>
<rect x="515" y="221" width="2" height="21" fill="#00b000"/>
<rect x="514" y="238" width="1" height="2" fill="#00b000"/>
<rect x="517" y="224" width="1" height="2" fill="#00b000"/>
<rect x="519" y="215" width="2" height="19" fill="#ff0000"/>
<rect x="518" y="217" width="1" height="2" fill="#ff0000"/>
<rect x="521" y="229" width="1" height="2" fill="#ff0000"/>
<rect x="523" y="225" width="2" height="15" fill="#ff0000"/>
<rect x="522" y="227" width="1" height="2" fill="#ff0000"/>
<rect x="525" y="236" width="1" height="2" fill="#ff0000"/>
<rect x="527" y="227" width="2" height="19" fill="#00b000"/>
<rect x="526" y="243" width="1" height="2" fill="#00b000"/>
<rect x="529" y="230" width="1" height="2" fill="#00b000"/>
<rect x="531" y="215" width="2" height="17" fill="#00b000"/>
<rect x="530" y="229" width="1" height="2" fill="#00b000"/>
<rect x="533" y="218" width="1" height="2" fill="#00b000"/>
<rect x="535" y="213" width="2" height="16" fill="#ff0000"/>
<rect x="534" y="215" width="1" height="2" fill="#ff0000"/>
<rect x="537" y="225" width="1" height="2" fill="#ff0000"/>
<rect x="539" y="226" width="2" height="11" fill="#ff0000"/>
<rect x="538" y="227" width="1" height="2" fill="#ff0000"/>
<rect x="541" y="234" width="1" height="2" fill="#ff0000"/>
<rect x="543" y="226" width="2" height="15" fill="#ff0000"/>
<rect x="542" y="228" width="1" height="2" fill="#ff0000"/>
<rect x="545" y="237" width="1" height="2" fill="#ff0000"/>
<rect x="547" y="230" width="2" height="14" fill="#ff0000"/>
<rect x="546" y="232" width="1" height="2" fill="#ff0000"/>
<rect x="549" y="240" width="1" height="2" fill="#ff0000"/>
<rect x="-1" y="402" width="2" height="14" fill="#ff0000"/>
<rect x="3" y="398" width="2" height="18" fill="#008000"/>
<rect x="7" y="401" width="2" height="15" fill="#008000"/>
<rect x="11" y="392" width="2" height="24" fill="#ff0000"/>
<rect x="15" y="378" width="2" height="38" fill="#ff0000"/>
<rect x="19" y="378" width="2" height="38" fill="#008000"/>
<rect x="23" y="390" width="2" height="26" fill="#008000"/>
<rect x="27" y="388" width="2" height="28" fill="#008000"/>
<rect x="31" y="378" width="2" height="38" fill="#008000"/>
<rect x="35" y="375" width="2" height="41" fill="#008000"/>
<rect x="39" y="369" width="2" height="47" fill="#008000"/>
<rect x="43" y="374" width="2" height="42" fill="#008000"/>
<rect x="47" y="378" width="2" height="38" fill="#008000"/>
<rect x="51" y="367" width="2" height="49" fill="#ff0000"/>
<rect x="55" y="370" width="2" height="46" fill="#008000"/>
<rect x="59" y="351" width="2" height="65" fill="#ff0000"/>
<rect x="63" y="370" width="2" height="46" fill="#008000"/>
<rect x="67" y="363" width="2" height="53" fill="#008000"/>
<rect x="71" y="332" width="2" height="84" fill="#008000"/>
<rect x="75" y="360" width="2" height="56" fill="#008000"/>
<rect x="79" y="373" width="2" height="43" fill="#ff0000"/>
<rect x="83" y="373" width="2" height="43" fill="#008000"/>
<rect x="87" y="368" width="2" height="48" fill="#008000"/>
<rect x="91" y="376" width="2" height="40" fill="#ff0000"/>
<rect x="95" y="363" width="2" height="53" fill="#008000"/>
<rect x="99" y="379" width="2" height="37" fill="#008000"/>
<rect x="103" y="352" width="2" height="64" fill="#ff0000"/>
<rect x="107" y="366" width="2" height="50" fill="#ff0000"/>
<rect x="111" y="345" width="2" height="71" fill="#008000"/>
<rect x="115" y="361" width="2" height="55" fill="#ff0000"/>
<rect x="119" y="359" width="2" height="57" fill="#ff0000"/>
<rect x="123" y="370" width="2" height="46" fill="#008000"/>
<rect x="127" y="382" width="2" height="34" fill="#008000"/>
<rect x="131" y="392" width="2" height="24" fill="#ff0000"/>
<rect x="135" y="384" width="2" height="32" fill="#008000"/>
<rect x="139" y="382" width="2" height="34" fill="#008000"/>
<rect x="143" y="368" width="2" height="48" fill="#008000"/>
<rect x="147" y="386" width="2" height="30" fill="#ff0000"/>
<rect x="151" y="385" width="2" height="31" fill="#008000"/>
<rect x="155" y="381" width="2" height="35" fill="#ff0000"/>
<rect x="159" y="393" width="2" height="23" fill="#008000"/>
<rect x="163" y="379" width="2" height="37" fill="#008000"/>
<rect x="167" y="331" width="2" height="85" fill="#008000"/>
<rect x="171" y="339" width="2" height="77" fill="#ff0000"/>
<rect x="175" y="346" width="2" height="70" fill="#ff0000"/>
<rect x="179" y="348" width="2" height="68" fill="#ff0000"/>
<rect x="183" y="357" width="2" height="59" fill="#008000"/>
<rect x="187" y="361" width="2" height="55" fill="#ff0000"/>
<rect x="191" y="378" width="2" height="38" fill="#ff0000"/>
<rect x="195" y="358" width="2" height="58" fill="#008000"/>
<rect x="199" y="350" width="2" height="66" fill="#008000"/>
<rect x="203" y="372" width="2" height="44" fill="#ff0000"/>
<rect x="207" y="360" width="2" height="56" fill="#ff0000"/>
<rect x="211" y="378" width="2" height="38" fill="#ff0000"/>
<rect x="215" y="374" width="2" height="42" fill="#008000"/>
<rect x="219" y="346" width="2" height="70" fill="#008000"/>
<rect x="223" y="385" width="2" height="31" fill="#ff0000"/>
<rect x="227" y="390" width="2" height="26" fill="#008000"/>
<rect x="231" y="365" width="2" height="51" fill="#008000"/>
<rect x="235" y="362" width="2" height="54" fill="#ff0000"/>
<rect x="239" y="346" width="2" height="70" fill="#ff0000"/>
<rect x="243" y="368" width="2" height="48" fill="#008000"/>
<rect x="247" y="362" width="2" height="54" fill="#ff0000"/>
<rect x="251" y="380" width="2" height="36" fill="#ff0000"/>
<rect x="255" y="376" width="2" height="40" fill="#008000"/>
<rect x="259" y="377" width="2" height="39" fill="#ff0000"/>
<rect x="263" y="380" width="2" height="36" fill="#008000"/>
<rect x="267" y="385" width="2" height="31" fill="#008000"/>
<rect x="271" y="394" width="2" height="22" fill="#008000"/>
<rect x="275" y="376" width="2" height="40" fill="#ff0000"/>
<rect x="279" y="376" width="2" height="40" fill="#008000"/>
<rect x="283" y="376" width="2" height="40" fill="#008000"/>
<rect x="287" y="386" width="2" height="30" fill="#ff0000"/>
<rect x="291" y="377" width="2" height="39" fill="#008000"/>
<rect x="295" y="385" width="2" height="31" fill="#ff0000"/>
<rect x="299" y="384" width="2" height="32" fill="#008000"/>
<rect x="303" y="383" width="2" height="33" fill="#008000"/>
<rect x="307" y="379" width="2" height="37" fill="#008000"/>
<rect x="311" y="350" width="2" height="66" fill="#008000"/>
<rect x="315" y="313" width="2" height="103" fill="#ff0000"/>
<rect x="319" y="338" width="2" height="78" fill="#008000"/>
<rect x="323" y="352" width="2" height="64" fill="#ff0000"/>
<rect x="327" y="378" width="2" height="38" fill="#ff0000"/>
<rect x="331" y="385" width="2" height="31" fill="#ff0000"/>
<rect x="335" y="389" width="2" height="27" fill="#ff0000"/>
<rect x="339" y="371" width="2" height="45" fill="#ff0000"/>
<rect x="343" y="380" width="2" height="36" fill="#ff0000"/>
<rect x="347" y="379" width="2" height="37" fill="#ff0000"/>
<rect x="351" y="379" width="2" height="37" fill="#ff0000"/>
<rect x="355" y="388" width="2" height="28" fill="#008000"/>
<rect x="359" y="379" width="2" height="37" fill="#008000"/>
<rect x="363" y="386" width="2" height="30" fill="#008000"/>
<rect x="367" y="386" width="2" height="30" fill="#008000"/>
<rect x="371" y="391" width="2" height="25" fill="#008000"/>
<rect x="375" y="383" width="2" height="33" fill="#008000"/>
<rect x="379" y="394" width="2" height="22" fill="#008000"/>
<rect x="383" y="385" width="2" height="31" fill="#ff0000"/>
<rect x="387" y="390" width="2" height="26" fill="#ff0000"/>
<rect x="391" y="389" width="2" height="27" fill="#008000"/>
<rect x="395" y="374" width="2" height="42" fill="#ff0000"/>
<rect x="399" y="384" width="2" height="32" fill="#008000"/>
<rect x="403" y="380" width="2" height="36" fill="#008000"/>
<rect x="407" y="377" width="2" height="39" fill="#008000"/>
<rect x="411" y="369" width="2" height="47" fill="#008000"/>
<rect x="415" y="391" width="2" height="25" fill="#ff0000"/>
<rect x="419" y="350" width="2" height="66" fill="#ff0000"/>
<rect x="423" y="368" width="2" height="48" fill="#008000"/>
<rect x="427" y="378" width="2" height="38" fill="#ff0000"/>
<rect x="431" y="378" width="2" height="38" fill="#008000"/>
<rect x="435" y="393" width="2" height="23" fill="#ff0000"/>
<rect x="439" y="380" width="2" height="36" fill="#ff0000"/>
<rect x="443" y="365" width="2" height="51" fill="#008000"/>
<rect x="447" y="382" width="2" height="34" fill="#008000"/>
<rect x="451" y="366" width="2" height="50" fill="#ff0000"/>
<rect x="455" y="383" width="2" height="33" fill="#ff0000"/>
<rect x="459" y="380" width="2" height="36" fill="#ff0000"/>
<rect x="463" y="383" width="2" height="33" fill="#ff0000"/>
<rect x="467" y="372" width="2" height="44" fill="#ff0000"/>
<rect x="471" y="360" width="2" height="56" fill="#008000"/>
<rect x="475" y="377" width="2" height="39" fill="#008000"/>
<rect x="479" y="383" width="2" height="33" fill="#ff0000"/>
<rect x="483" y="386" width="2" height="30" fill="#ff0000"/>
<rect x="487" y="376" width="2" height="40" fill="#008000"/>
<rect x="491" y="338" width="2" height="78" fill="#ff0000"/>
<rect x="495" y="356" width="2" height="60" fill="#ff0000"/>
<rect x="499" y="367" width="2" height="49" fill="#ff0000"/>
<rect x="503" y="350" width="2" height="66" fill="#ff0000"/>
<rect x="507" y="373" width="2" height="43" fill="#008000"/>
<rect x="511" y="357" width="2" height="59" fill="#ff0000"/>
<rect x="515" y="361" width="2" height="55" fill="#008000"/>
<rect x="519" y="399" width="2" height="17" fill="#ff0000"/>
<rect x="523" y="386" width="2" height="30" fill="#ff0000"/>
<rect x="527" y="377" width="2" height="39" fill="#008000"/>
<rect x="531" y="373" width="2" height="43" fill="#008000"/>
<rect x="535" y="385" width="2" height="31" fill="#ff0000"/>
<rect x="539" y="351" width="2" height="65" fill="#ff0000"/>
<rect x="543" y="380" width="2" height="36" fill="#008000"/>
<rect x="547" y="369" width="2" height="47" fill="#ff0000"/>
<polyline points="0,278.7 10,277.4 20,275.1 30,272 40,269 50,266 56.3,263.2 62.7,262 69,258.8 75.3,256.4 81.7,253.6 88,251 94.4,248.7 100.7,245.8 104.5,243.9 110.8,242.4 117.2,240.8 123.5,239.6 132.7,237.2 145.3,234 158,231 166.9,229 173.2,225.8 180.8,224 188.4,222 193.5,220.2 200,218.2 210,214.6 220,210.9 230,208.7 240,206.3 250,204.5 260,202.4 275,200.7 290,198.8 295,198 305,196.6 315,195.2 325,194 335,192.3 345,191.1 355,190.4 365,189.5 375,187.8 385,186.5 395,185.3 405,184.4 415,184 425,183.4 435,182.5 440,182.5 447,180.9 460,180.3 475,179 485,177.7 495,177.1 505,176.7 520,176.7 548.5,176.9" fill="none" stroke="#00b400" stroke-width="2.15" stroke-linejoin="round"/>
<polyline points="0,225.2 3,224.6 25,224.6 28.3,224.2 32,223.2 36,222.3 40,220.2 46.3,215.3 52.7,210.2 59,206.8 62.8,204.9 67.9,199.2 73,193.5 78,187.8 83.1,182.1 88.2,177 93.2,173.7 98.3,169.8 103.4,166 108.4,163.1 113.5,160.6 119.2,158 130,154.6 140,150.2 150,146.7 156,146.2 160,143.7 166,140.5 172,138.2 180,136 186,133.5 192,131.4 198,129.1 204,125.3 210,122.1 216,119.2 222,117.7 228,115.8 234,113.9 240,114.5 245,115.1 250,117.7 255,120 260,121.5 265,123.8 270,124.6 275,128.4 280,131.9 285,134.8 290,137.3 295,139.8 300,141.7 305,142.9 315,142.6 325,141.6 332,141.9 340,144.2 350,146.1 357,149.2 365,151.7 372,152.3 380,153.2 390,154.5 395,156.1 400,157.6 405,159.3 410,161.2 415,163.1 420,165.6 425,168.2 430,170.1 445,170.3 460,169.9 480,170.4 490,171.4 497,173 503,174.9 510,176.8 520,180.5 530,184.3 540,187.5 548.5,189.1" fill="none" stroke="#c000c0" stroke-width="2.15" stroke-linejoin="round"/>
<polyline points="0,204 10,199.8 20,198.1 30,194.7 36,192.8 40,188.6 46.3,182.4 52.7,175.9 59,170.5 62.8,166.9 66.6,161.2 70.4,154.9 74.2,147.9 78,140.9 81.8,134.6 85.6,128.9 89.4,123.2 93.4,117.3 98.4,107.8 100,105.3 103.5,100.9 105,100.1 108.8,98.2 112,97 114.7,96.8 118.6,97.2 124.5,100.9 129.4,104.6 134,107.2 140,108.1 144,108.8 150,113.5 156,121.1 160,123.4 165,126.5 170,129.7 175,132.2 180,135.4 185,135.4 190,134.8 196,133.5 200,128.4 205,123.4 210,119.6 215,117.7 222,116.2 228,114.5 233,113.2 236,113.2 240,117 245,120.8 250,125.3 255,128.4 260,131.6 265,135.4 270,138.6 275,142.4 280,148.7 285,153.8 290,157.9 295,160.8 300,165.1 305,167.9 310,169.9 315,170.8 318,170.8 322,168.9 327,167.6 333,166.6 340,165.3 344,165.1 348,166.1 352,167.6 358,168.2 365,168.2 370,167 375,165.6 382,164.6 390,165.6 397,166.6 405,167.5 415,168.2 420,170.1 430,171.0 440,170.4 447,170.5 455,171.8 462,173.9 470,176.5 477,178.4 485,180 492,181.5 497,184.7 505,185.5 512,188.5 520,192.4 524,195.6 530,200.1 536,205.1 542,210.2 546,213.4 548.5,214.3" fill="none" stroke="#0000ff" stroke-width="2.15" stroke-linejoin="round"/>
<polyline points="0,227.9 5,227.5 10,226.8 17,226.5 22,225.6 27,224.9 32,224.6 38,223.2 42,221.3 46,219.9 50,219 55,217.1 60,215.8 65.9,213.1 79.8,206.8 90,201.5 98,197.7 105.9,194.8 111,194.1 119.8,192.3 124,191.2 135,188.6 145,186.1 155,184.2 165,182 175,179.9 185,178.4 195,177 210,173.8 225,170.3 240,166.5 255,164.2 270,161.7 285,158.2 295,156.2 305,153.9 315,151.1 325,148.6 335,146.7 345,146.1 360,145.8 375,145.2 380,144.7 395,143.4 410,141.8 418,140.9 430,141.8 440,142.8 450,143.4 460,145.3 470,147.9 480,150.4 490,153.2 500,156.9 510,159.5 520,161.6 530,164 540,166.3 548.5,168.1" fill="none" stroke="#808080" stroke-width="2.15" stroke-linejoin="round"/>
<line x1="76" y1="34.4" x2="558.5" y2="189.2" stroke="#ff0000" stroke-width="1" stroke-dasharray="3 3"/>
<line x1="195.8" y1="188.4" x2="559" y2="251.4" stroke="#ff0000" stroke-width="1" stroke-dasharray="3 3"/>
<rect x="576" y="2" width="1" height="415" fill="#b0b0b0"/>
<rect x="0" y="416" width="577" height="1" fill="#b0b0b0"/>
<rect x="572" y="7" width="4" height="1" fill="#b0b0b0"/>
<rect x="567" y="17" width="9" height="1" fill="#b0b0b0"/>
<rect x="572" y="27" width="4" height="1" fill="#b0b0b0"/>
<rect x="572" y="37" width="4" height="1" fill="#b0b0b0"/>
<rect x="572" y="46" width="4" height="1" fill="#b0b0b0"/>
<rect x="572" y="56" width="4" height="1" fill="#b0b0b0"/>
<rect x="567" y="66" width="9" height="1" fill="#b0b0b0"/>
<rect x="572" y="76" width="4" height="1" fill="#b0b0b0"/>
<rect x="572" y="85" width="4" height="1" fill="#b0b0b0"/>
<rect x="572" y="95" width="4" height="1" fill="#b0b0b0"/>
<rect x="572" y="105" width="4" height="1" fill="#b0b0b0"/>
<rect x="567" y="115" width="9" height="1" fill="#b0b0b0"/>
<rect x="572" y="124" width="4" height="1" fill="#b0b0b0"/>
<rect x="572" y="134" width="4" height="1" fill="#b0b0b0"/>
<rect x="572" y="144" width="4" height="1" fill="#b0b0b0"/>
<rect x="572" y="154" width="4" height="1" fill="#b0b0b0"/>
<rect x="567" y="163" width="9" height="1" fill="#b0b0b0"/>
<rect x="572" y="173" width="4" height="1" fill="#b0b0b0"/>
<rect x="572" y="183" width="4" height="1" fill="#b0b0b0"/>
<rect x="572" y="193" width="4" height="1" fill="#b0b0b0"/>
<rect x="572" y="202" width="4" height="1" fill="#b0b0b0"/>
<rect x="567" y="212" width="9" height="1" fill="#b0b0b0"/>
<rect x="572" y="222" width="4" height="1" fill="#b0b0b0"/>
<rect x="572" y="232" width="4" height="1" fill="#b0b0b0"/>
<rect x="572" y="241" width="4" height="1" fill="#b0b0b0"/>
<rect x="572" y="251" width="4" height="1" fill="#b0b0b0"/>
<rect x="567" y="261" width="9" height="1" fill="#b0b0b0"/>
<rect x="572" y="271" width="4" height="1" fill="#b0b0b0"/>
<rect x="572" y="281" width="4" height="1" fill="#b0b0b0"/>
<rect x="572" y="290" width="4" height="1" fill="#b0b0b0"/>
<rect x="572" y="404" width="4" height="1" fill="#b0b0b0"/>
<rect x="572" y="391" width="4" height="1" fill="#b0b0b0"/>
<rect x="572" y="377" width="4" height="1" fill="#b0b0b0"/>
<rect x="572" y="364" width="4" height="1" fill="#b0b0b0"/>
<rect x="567" y="351" width="9" height="1" fill="#b0b0b0"/>
<rect x="572" y="338" width="4" height="1" fill="#b0b0b0"/>
<rect x="572" y="325" width="4" height="1" fill="#b0b0b0"/>
<rect x="572" y="312" width="4" height="1" fill="#b0b0b0"/>
</g>
<text x="582.5" y="21" font-size="14" fill="#222" font-weight="normal" letter-spacing="0.25">115.00</text>
<text x="582.5" y="70" font-size="14" fill="#222" font-weight="normal" letter-spacing="0.25">110.00</text>
<text x="582.5" y="119" font-size="14" fill="#222" font-weight="normal" letter-spacing="0.25">105.00</text>
<text x="582.5" y="167" font-size="14" fill="#222" font-weight="normal" letter-spacing="0.25">100.00</text>
<text x="582.5" y="216" font-size="14" fill="#222" font-weight="normal" letter-spacing="0.25">95.00</text>
<text x="582.5" y="265" font-size="14" fill="#222" font-weight="normal" letter-spacing="0.25">90.00</text>
<text x="582" y="355" font-size="14" fill="#222" font-weight="normal" >2.5M</text>
<text x="582.5" y="414" font-size="14" fill="#222" font-weight="normal" >0</text>
<rect x="577" y="180" width="36" height="17" fill="#c000c0" shape-rendering="crispEdges"/>
<text x="577.4" y="194" font-size="14" fill="#fff" font-weight="normal" letter-spacing="0.15">97.33</text>
<rect x="577" y="168" width="36" height="17" fill="#00b400" shape-rendering="crispEdges"/>
<text x="577.4" y="182" font-size="14" fill="#fff" font-weight="normal" letter-spacing="0.15">98.60</text>
<rect x="577" y="159" width="36" height="17" fill="#808080" shape-rendering="crispEdges"/>
<text x="577.4" y="173" font-size="14" fill="#fff" font-weight="normal" letter-spacing="0.15">99.56</text>
<rect x="577" y="205" width="36" height="17" fill="#0000ff" shape-rendering="crispEdges"/>
<text x="577.4" y="219" font-size="14" fill="#fff" font-weight="normal" letter-spacing="0.15">94.78</text>
<rect x="577" y="228" width="36" height="17" fill="#000000" shape-rendering="crispEdges"/>
<text x="577.4" y="242" font-size="14" fill="#fff" font-weight="normal" letter-spacing="0.15">92.44</text>
<rect x="577" y="360" width="47" height="17" fill="#000080" shape-rendering="crispEdges"/>
<text x="578" y="373.5" font-size="14" fill="#fff" font-weight="normal" >1.814M</text>
<text x="14.5" y="430.7" font-size="14" fill="#333" font-weight="normal" >Jan-18</text>
<text x="98.5" y="430.7" font-size="14" fill="#333" font-weight="normal" >Feb-18</text>
<text x="174.5" y="430.7" font-size="14" fill="#333" font-weight="normal" >Mar-18</text>
<text x="258.5" y="430.7" font-size="14" fill="#333" font-weight="normal" >Apr-18</text>
<text x="342.5" y="430.7" font-size="14" fill="#333" font-weight="normal" >May-18</text>
<text x="430.5" y="430.7" font-size="14" fill="#333" font-weight="normal" >Jun-18</text>
<text x="514.5" y="430.7" font-size="14" fill="#333" font-weight="normal" >Jul-18</text>
<text x="110" y="13.5" font-size="14.62" fill="#00b400" font-weight="bold" >MovingAvg (C,200)</text>
<text x="252.5" y="13.5" font-size="14.62" fill="#c000c0" font-weight="bold" >MovingAvg (C,50)</text>
<text x="385.5" y="13.5" font-size="14.62" fill="#000" font-weight="bold" textLength="171.5" lengthAdjust="spacing">07/13/2018 = 92.44 (-0.42)</text>
<text x="4.3" y="31.5" font-size="14.62" fill="#0000ff" font-weight="bold" >MovingAvg (C,20)</text>
<text x="137.5" y="31.5" font-size="14.62" fill="#808080" font-weight="bold" >MovingAvg (C,100)</text>
<text x="336.3" y="310" font-size="14.7" fill="#008000" font-weight="bold" >Up Close</text>
<text x="411" y="310" font-size="14.7" fill="#ff0000" font-weight="bold" >Down Close</text>
<text x="505.8" y="310" font-size="14.4" fill="#000080" font-weight="bold" >Volume</text>
<text x="2.8" y="292" font-size="9" fill="#000" font-weight="normal" >© GenesisFT</text>
<rect x="3" y="282" width="1" height="1" fill="#000" shape-rendering="crispEdges"/>
</svg>
</body></html>
